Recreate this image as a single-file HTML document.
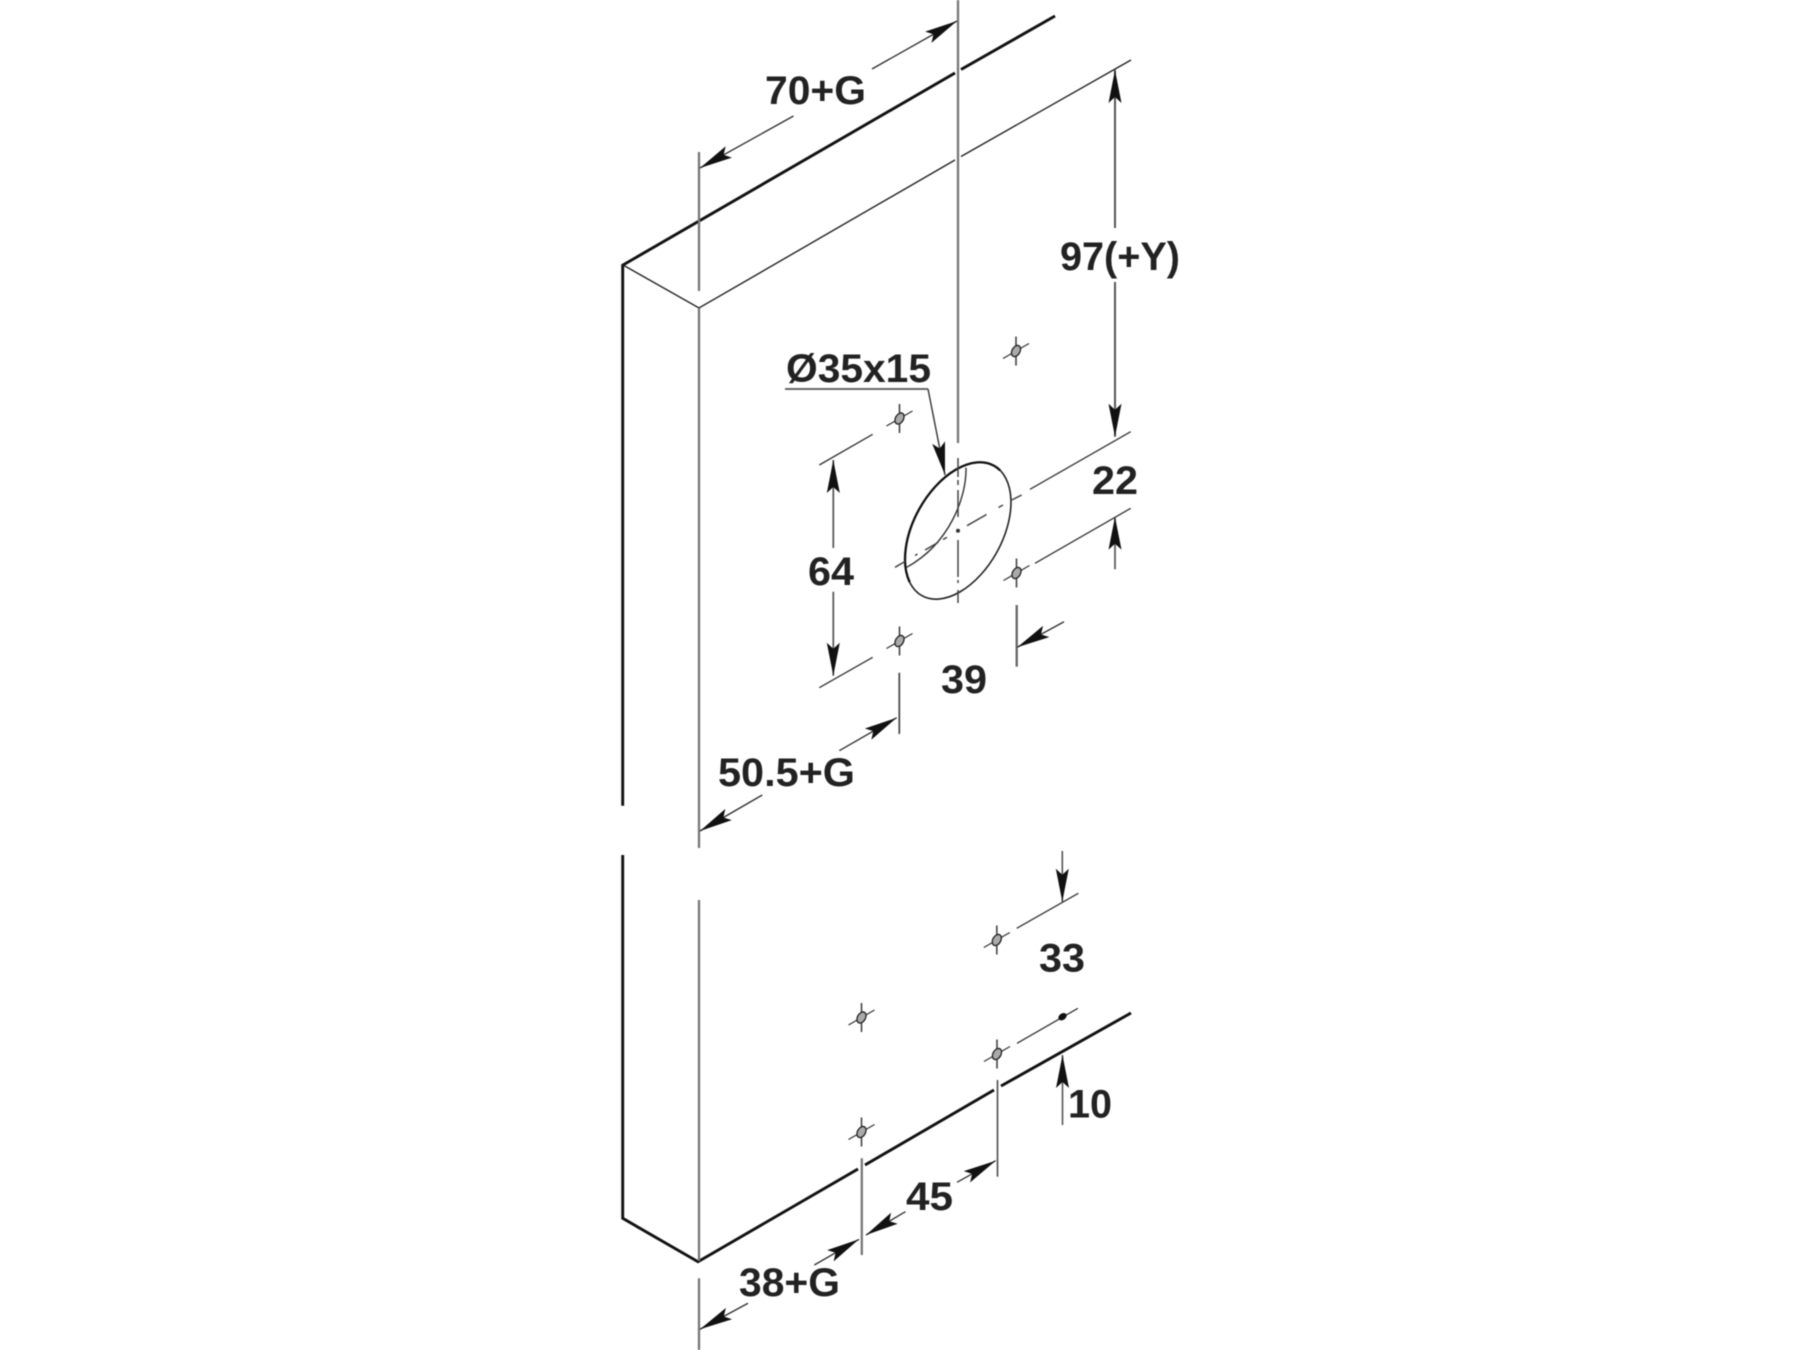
<!DOCTYPE html>
<html><head><meta charset="utf-8"><title>Drilling diagram</title>
<style>
html,body{margin:0;padding:0;background:#fff}
svg{display:block;filter:blur(.45px)}
text{font-family:"Liberation Sans",Arial,sans-serif;font-weight:bold;font-size:40px;fill:#222}
.e{stroke:#111;stroke-width:2.9;fill:none}
.m{stroke:#222;stroke-width:1.4;fill:none}
.v{stroke:#777;stroke-width:2.3;fill:none}
.d{stroke:#333;stroke-width:1.3;fill:none}
.a{stroke:#333;stroke-width:1.4;fill:none;marker-end:url(#ar)}
.c{stroke:#444;stroke-width:1.5;fill:none}
</style></head><body>
<svg xmlns="http://www.w3.org/2000/svg" width="1800" height="1350" viewBox="0 0 1800 1350">
<defs>
<marker id="ar" markerUnits="userSpaceOnUse" markerWidth="36" markerHeight="18" refX="33" refY="9" orient="auto">
<path d="M33 9 L0 2.5 L6 9 L0 15.5 Z" fill="#111"/>
</marker>
<g id="h">
<line x1="0" y1="-14.5" x2="0" y2="14.5" stroke="#444" stroke-width="1.6"/>
<line x1="-13" y1="7.5" x2="13" y2="-7.5" stroke="#333" stroke-width="1.2"/>
<ellipse cx="0" cy="0" rx="6" ry="4" transform="rotate(-60)" fill="#aaa" stroke="#222" stroke-width="1.3"/>
</g>
</defs>
<rect width="1800" height="1350" fill="#fff"/>

<!-- body -->
<path class="e" d="M623 265 L955 73 M961 69.5 L1055 16"/>
<path class="e" d="M622.7 264 V805.7 M622.7 855 V1218.3 L698 1261.7 L858 1169 M865 1165 L994 1090 M1001 1086 L1131 1013"/>
<path class="m" d="M623 265 L699 308 L955 160 M961 156.5 L1131 60"/>

<!-- long verticals -->
<path class="v" d="M699 152 V291 M699 308 V848 M699 900 V1261 M699 1278.3 V1350"/>
<path class="v" d="M958 0 V443"/>

<!-- 70+G -->
<line class="a" x1="793.5" y1="116" x2="700" y2="168"/>
<line class="a" x1="872" y1="69" x2="957" y2="21"/>
<text x="765" y="104" textLength="101" lengthAdjust="spacingAndGlyphs">70+G</text>

<!-- 97(+Y) -->
<line class="a" style="stroke-width:2;stroke:#555" x1="1115" y1="228" x2="1115" y2="70"/>
<line class="a" style="stroke-width:2;stroke:#555" x1="1115" y1="282" x2="1115" y2="436.7"/>
<text x="1060" y="270" textLength="120" lengthAdjust="spacingAndGlyphs">97(+Y)</text>

<!-- O35x15 -->
<text x="786" y="382" textLength="145" lengthAdjust="spacingAndGlyphs">Ø35x15</text>
<path class="v" style="stroke:#555;stroke-width:1.8" d="M785 389 H928"/>
<line class="a" x1="928" y1="389" x2="945" y2="475"/>

<!-- big hole -->
<ellipse cx="958" cy="530.7" rx="74.3" ry="44.4" transform="rotate(-61 958 530.7)" fill="#fff" stroke="#222" stroke-width="1.6"/>
<ellipse cx="958" cy="530.7" rx="74.3" ry="44.4" transform="rotate(-61 958 530.7)" fill="none" stroke="#111" stroke-width="2.3" pathLength="100" stroke-dasharray="47 53" stroke-dashoffset="-55"/>
<path d="M966 467.7 C966.7 496.7,950 543.3,906.7 567.3" fill="none" stroke="#333" stroke-width="1.4"/>
<!-- centre lines -->
<path class="c" d="M958 458 V477 M958 480 V485 M958 490 V517 M958 540 V577 M958 580 V583 M958 590 V603"/>
<circle cx="958" cy="530.7" r="2" fill="#333"/>
<path class="c" d="M895 567.3 L905 561.5 M915 555.5 L917.5 554 M925 550 L938 542.5 M943 539.5 L947 537.3 M967 525.7 L986.5 514.5 M998.5 507.5 L1003 505 M1011.7 500 L1021.7 495"/>

<!-- 22 -->
<line class="d" x1="1030" y1="489.3" x2="1130.7" y2="431.7"/>
<line class="d" x1="1035" y1="563.3" x2="1130.7" y2="508.3"/>
<line class="a" style="stroke:#555;stroke-width:1.7" x1="1115" y1="569.3" x2="1115" y2="516.7"/>
<text x="1092" y="494" textLength="46" lengthAdjust="spacingAndGlyphs">22</text>

<!-- 64 -->
<line class="d" x1="819.3" y1="465" x2="872.7" y2="434.3"/>
<line class="d" x1="819.3" y1="687.7" x2="872.7" y2="657.3"/>
<line class="a" style="stroke:#555;stroke-width:1.7" x1="833.3" y1="548" x2="833.3" y2="460"/>
<line class="a" style="stroke:#555;stroke-width:1.7" x1="833.3" y1="591.7" x2="833.3" y2="675.7"/>
<text x="808" y="585" textLength="46" lengthAdjust="spacingAndGlyphs">64</text>

<!-- 39 -->
<path class="v" style="stroke:#666" d="M1016.7 605 V666.7"/>
<line class="a" x1="1064" y1="621.7" x2="1017.3" y2="647.3"/>
<text x="941" y="693" textLength="46" lengthAdjust="spacingAndGlyphs">39</text>

<!-- 50.5+G -->
<path class="v" style="stroke:#444;stroke-width:1.7" d="M899.3 672.7 V734"/>
<line class="a" x1="839.3" y1="750.7" x2="896.7" y2="717.7"/>
<line class="a" x1="762.3" y1="795" x2="700" y2="831"/>
<text x="718" y="786" textLength="137" lengthAdjust="spacingAndGlyphs">50.5+G</text>

<!-- 33 -->
<line class="a" style="stroke:#555;stroke-width:1.6" x1="1062.3" y1="851" x2="1062.3" y2="901.7"/>
<line class="d" x1="1016.7" y1="928.3" x2="1078.3" y2="893.3"/>
<text x="1039" y="971.5" textLength="46" lengthAdjust="spacingAndGlyphs">33</text>

<!-- 10 -->
<line class="d" x1="1017" y1="1043.3" x2="1077.9" y2="1008.3"/>
<ellipse cx="1062.5" cy="1016.7" rx="4.5" ry="3.3" transform="rotate(-35 1062.5 1016.7)" fill="#111"/>
<line class="a" style="stroke:#555;stroke-width:1.6" x1="1062.5" y1="1125" x2="1062.5" y2="1055"/>
<text x="1068" y="1117.5" textLength="44" lengthAdjust="spacingAndGlyphs">10</text>

<!-- 45 -->
<path class="v" style="stroke:#555;stroke-width:1.7" d="M997.5 1080 V1176.7"/>
<path class="v" d="M861.8 1158.3 V1255"/>
<line class="a" x1="957" y1="1182.3" x2="995.7" y2="1160.7"/>
<line class="a" x1="905.4" y1="1211.7" x2="866" y2="1235"/>
<text x="906" y="1210" textLength="47" lengthAdjust="spacingAndGlyphs">45</text>

<!-- 38+G -->
<line class="a" x1="814.3" y1="1265" x2="859" y2="1239.3"/>
<line class="a" x1="748" y1="1303.3" x2="700" y2="1329.3"/>
<text x="739" y="1296" textLength="101" lengthAdjust="spacingAndGlyphs">38+G</text>

<!-- screw holes -->
<use href="#h" x="1016" y="351"/>
<use href="#h" x="899.5" y="418.5"/>
<use href="#h" x="1016.5" y="573"/>
<use href="#h" x="899.5" y="641"/>
<use href="#h" x="996.8" y="940"/>
<use href="#h" x="861.5" y="1017.5"/>
<use href="#h" x="997" y="1054"/>
<use href="#h" x="861.5" y="1132"/>
</svg>
</body></html>
